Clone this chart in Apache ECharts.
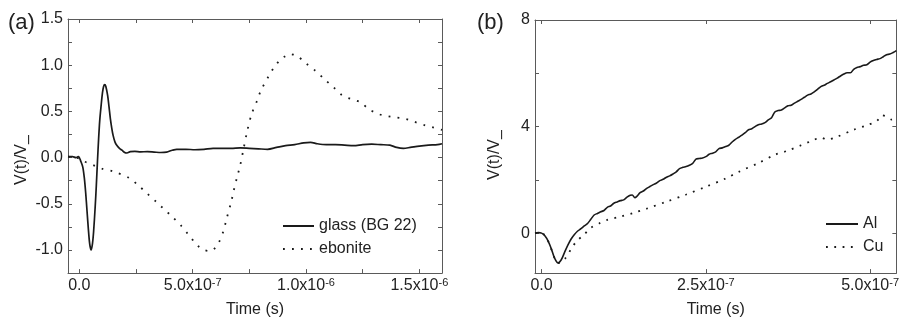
<!DOCTYPE html>
<html>
<head>
<meta charset="utf-8">
<script src="https://cdn.jsdelivr.net/npm/echarts@6/dist/echarts.min.js"></script>
<style>
html,body{margin:0;padding:0;background:#fff;}
#c{width:902px;height:323px;}
</style>
</head>
<body>
<div id="c"></div>
<script>
// ---- Panel (a) data ----
const glassT = [-5e-8,-3e-8,-1.5e-8,-5e-9,0,5e-9,1.5e-8,2.2e-8,2.8e-8,3.4e-8,4e-8,4.6e-8,5.2e-8,5.8e-8,6.3e-8,7e-8,7.5e-8,8e-8,8.5e-8,9e-8,9.6e-8,1.02e-7,1.07e-7,1.12e-7,1.17e-7,1.25e-7,1.31e-7,1.37e-7,1.43e-7,1.49e-7,1.57e-7,1.66e-7,1.77e-7,1.88e-7,2.0e-7,2.1e-7,2.25e-7,2.45e-7,2.7e-7,3.0e-7,3.3e-7,3.6e-7,3.85e-7,4.1e-7,4.3e-7,4.7e-7,5.1e-7,5.5e-7,5.9e-7,6.3e-7,6.7e-7,7.1e-7,7.5e-7,7.9e-7,8.3e-7,8.7e-7,9.1e-7,9.5e-7,9.9e-7,1.02e-6,1.05e-6,1.09e-6,1.13e-6,1.17e-6,1.21e-6,1.25e-6,1.29e-6,1.33e-6,1.37e-6,1.4e-6,1.43e-6,1.46e-6,1.5e-6,1.54e-6,1.58e-6,1.6e-6];
const glassV = [0.01,0.01,0.0,0.01,0.0,-0.03,-0.1,-0.22,-0.38,-0.58,-0.78,-0.94,-1.0,-0.93,-0.8,-0.53,-0.3,-0.04,0.2,0.4,0.56,0.7,0.77,0.79,0.77,0.67,0.55,0.42,0.32,0.24,0.17,0.13,0.1,0.08,0.055,0.05,0.065,0.068,0.062,0.065,0.06,0.055,0.06,0.08,0.09,0.09,0.085,0.09,0.1,0.1,0.1,0.105,0.1,0.095,0.09,0.11,0.13,0.14,0.16,0.165,0.15,0.14,0.14,0.135,0.13,0.14,0.145,0.14,0.135,0.11,0.1,0.11,0.125,0.135,0.14,0.15];
const eboniteT = [-5e-8,-2e-8,0,2e-8,6e-8,1e-7,1.5e-7,2.2e-7,2.6e-7,3e-7,3.4e-7,3.7e-7,4.1e-7,4.5e-7,4.8e-7,5.1e-7,5.3e-7,5.5e-7,5.7e-7,5.9e-7,6.15e-7,6.35e-7,6.5e-7,6.7e-7,6.8e-7,6.95e-7,7.1e-7,7.25e-7,7.4e-7,7.6e-7,7.85e-7,8.0e-7,8.35e-7,8.6e-7,8.87e-7,9.1e-7,9.3e-7,9.6e-7,1.0e-6,1.041e-6,1.081e-6,1.122e-6,1.159e-6,1.203e-6,1.24e-6,1.277e-6,1.321e-6,1.358e-6,1.394e-6,1.439e-6,1.475e-6,1.519e-6,1.556e-6,1.6e-6];
const eboniteV = [0.01,0.0,-0.01,-0.04,-0.08,-0.12,-0.15,-0.22,-0.3,-0.39,-0.48,-0.55,-0.64,-0.74,-0.83,-0.92,-0.97,-1.0,-1.01,-1.0,-0.92,-0.8,-0.66,-0.48,-0.37,-0.22,-0.08,0.1,0.28,0.47,0.62,0.72,0.88,0.98,1.06,1.1,1.12,1.1,1.02,0.94,0.85,0.76,0.675,0.63,0.6,0.525,0.47,0.45,0.436,0.42,0.39,0.354,0.33,0.3];
// ---- Panel (b) data ----
const alT = [-1e-8,-5e-9,0,5e-9,1e-8,1.5e-8,2e-8,2.5e-8,3e-8,3.5e-8,4e-8,4.5e-8,5e-8,5.5e-8,6e-8,6.5e-8,7e-8,7.5e-8,8e-8,8.5e-8,9e-8,9.5e-8,1e-7,1.05e-7,1.1e-7,1.15e-7,1.2e-7,1.25e-7,1.3e-7,1.35e-7,1.38e-7,1.42e-7,1.45e-7,1.5e-7,1.55e-7,1.6e-7,1.65e-7,1.7e-7,1.75e-7,1.8e-7,1.85e-7,1.9e-7,1.95e-7,2e-7,2.05e-7,2.1e-7,2.15e-7,2.2e-7,2.25e-7,2.3e-7,2.35e-7,2.4e-7,2.45e-7,2.5e-7,2.55e-7,2.6e-7,2.65e-7,2.7e-7,2.75e-7,2.8e-7,2.85e-7,2.9e-7,2.95e-7,3e-7,3.05e-7,3.1e-7,3.15e-7,3.2e-7,3.25e-7,3.3e-7,3.35e-7,3.4e-7,3.45e-7,3.5e-7,3.55e-7,3.6e-7,3.65e-7,3.7e-7,3.75e-7,3.8e-7,3.85e-7,3.9e-7,3.95e-7,4e-7,4.05e-7,4.1e-7,4.15e-7,4.2e-7,4.25e-7,4.3e-7,4.35e-7,4.4e-7,4.45e-7,4.5e-7,4.55e-7,4.6e-7,4.65e-7,4.7e-7,4.75e-7,4.8e-7,4.85e-7,4.9e-7,4.95e-7,5e-7,5.05e-7,5.1e-7,5.15e-7,5.2e-7,5.25e-7,5.3e-7,5.35e-7,5.4e-7];
const alV = [0.0,0.02,0.0,-0.1,-0.3,-0.6,-0.95,-1.12,-1.0,-0.72,-0.45,-0.22,-0.05,0.08,0.17,0.27,0.36,0.52,0.68,0.74,0.8,0.85,0.97,1.02,1.12,1.17,1.22,1.25,1.35,1.42,1.43,1.33,1.38,1.52,1.58,1.68,1.75,1.82,1.88,1.97,2.02,2.1,2.15,2.22,2.3,2.42,2.47,2.5,2.55,2.62,2.78,2.8,2.82,2.87,2.96,3.0,3.05,3.17,3.2,3.25,3.3,3.42,3.52,3.6,3.68,3.77,3.88,3.92,4.0,4.07,4.1,4.15,4.25,4.33,4.55,4.6,4.62,4.7,4.78,4.8,4.88,4.95,5.02,5.1,5.18,5.22,5.3,5.4,5.5,5.55,5.62,5.68,5.75,5.82,5.9,5.97,6.02,6.02,6.15,6.22,6.25,6.3,6.32,6.42,6.48,6.52,6.55,6.62,6.7,6.72,6.78,6.85];
const cuT = [-1e-8,0,1e-8,2e-8,2.5e-8,3e-8,3.6e-8,4.5e-8,5.3e-8,6.5e-8,7.5e-8,8.8e-8,1e-7,1.2e-7,1.4e-7,1.6e-7,1.9e-7,2.2e-7,2.5e-7,2.8e-7,3e-7,3.3e-7,3.55e-7,3.75e-7,3.95e-7,4.1e-7,4.25e-7,4.35e-7,4.5e-7,4.75e-7,4.95e-7,5.1e-7,5.18e-7,5.25e-7,5.33e-7,5.4e-7];
const cuV = [0.0,0.0,-0.3,-0.95,-1.12,-1.1,-0.95,-0.6,-0.31,-0.05,0.2,0.37,0.5,0.62,0.76,0.92,1.18,1.45,1.74,2.05,2.3,2.63,2.94,3.1,3.3,3.45,3.58,3.52,3.62,3.88,4.05,4.2,4.42,4.38,4.26,4.3];
// ---- Axis ticks ----
const xTicksA = [0,2.5e-7,5e-7,7.5e-7,1e-6,1.25e-6,1.5e-6];
const xLabelsA = [0,5e-7,1e-6,1.5e-6];
const yTicksA = [-1,-0.75,-0.5,-0.25,0,0.25,0.5,0.75,1,1.25,1.5];
const yLabelsA = [-1,-0.5,0,0.5,1,1.5];
const xTicksB = [0,2.5e-7,5e-7];
const xLabelsB = [0,2.5e-7,5e-7];
const yTicksB = [0,2,4,6,8];
const yLabelsB = [0,4,8];

const zip = (t, v) => t.map((x, i) => [x, v[i]]);
const FONT = 'Liberation Sans';
const TXT = '#222';
const FRAME = '#5a5a5a';
const LINE = '#1a1a1a';

function sci(v) {
  if (Math.abs(v) < 1e-20) return '0.0';
  const e = Math.floor(Math.log10(Math.abs(v)) + 1e-9);
  const m = v / Math.pow(10, e);
  return '{b|' + m.toFixed(1) + 'x10}{s|' + e + '}';
}

function xAx(grid, pos, min, max, ticks, labels, withName) {
  return {
    type: 'value', gridIndex: grid, position: pos, min: min, max: max,
    axisLine: { show: true, onZero: false, lineStyle: { color: FRAME, width: 1 } },
    axisTick: { show: true, inside: true, length: 4, customValues: ticks, lineStyle: { color: FRAME } },
    splitLine: { show: false },
    axisLabel: labels ? {
      show: true, customValues: labels, margin: 4, color: TXT, fontFamily: FONT, fontSize: 16, lineHeight: 16,
      formatter: sci,
      rich: {
        b: { fontFamily: FONT, fontSize: 16, lineHeight: 16, color: TXT, verticalAlign: 'bottom' },
        s: { fontFamily: FONT, fontSize: 11, lineHeight: 11, color: TXT, verticalAlign: 'top', padding: [0, 0, 9, 0] }
      }
    } : { show: false },
    name: withName ? 'Time (s)' : '',
    nameLocation: 'middle', nameGap: 26,
    nameTextStyle: { fontFamily: FONT, fontSize: 16, color: TXT }
  };
}
function yAx(grid, pos, min, max, ticks, labels, dec) {
  return {
    type: 'value', gridIndex: grid, position: pos, min: min, max: max,
    axisLine: { show: true, onZero: false, lineStyle: { color: FRAME, width: 1 } },
    axisTick: { show: true, inside: true, length: 4, customValues: ticks, lineStyle: { color: FRAME } },
    splitLine: { show: false },
    axisLabel: labels ? {
      show: true, customValues: labels, margin: 5, color: TXT, fontFamily: FONT, fontSize: 16,
      formatter: v => v.toFixed(dec)
    } : { show: false }
  };
}

const chart = echarts.init(document.getElementById('c'), null, { renderer: 'canvas' });
chart.setOption({
  animation: false,
  backgroundColor: '#fff',
  textStyle: { fontFamily: FONT },
  grid: [
    { left: 68, top: 19, width: 374, height: 257 },
    { left: 535, top: 20, width: 366, height: 256 }
  ],
  xAxis: [
    xAx(0, 'bottom', -5e-8, 1.6e-6, xTicksA, xLabelsA, true),
    xAx(0, 'top', -5e-8, 1.6e-6, xTicksA, null, false),
    xAx(1, 'bottom', -1e-8, 5.4e-7, xTicksB, xLabelsB, true),
    xAx(1, 'top', -1e-8, 5.4e-7, xTicksB, null, false)
  ],
  yAxis: [
    yAx(0, 'left', -1.25, 1.5, yTicksA, yLabelsA, 1),
    yAx(0, 'right', -1.25, 1.5, yTicksA, null, 1),
    yAx(1, 'left', -1.5, 8, yTicksB, yLabelsB, 0),
    yAx(1, 'right', -1.5, 8, yTicksB, null, 0)
  ],
  legend: [
    {
      data: ['glass (BG 22)', 'ebonite'], orient: 'vertical', left: 282, top: 218,
      itemWidth: 31, itemHeight: 14, itemGap: 7, padding: 0,
      itemStyle: { opacity: 0 },
      textStyle: { fontFamily: FONT, fontSize: 16, color: TXT, lineHeight: 16 }
    },
    {
      data: ['Al', 'Cu'], orient: 'vertical', left: 825, top: 216,
      itemWidth: 32, itemHeight: 14, itemGap: 7, padding: 0,
      itemStyle: { opacity: 0 },
      textStyle: { fontFamily: FONT, fontSize: 16, color: TXT, lineHeight: 16 }
    }
  ],
  graphic: [
    { type: 'text', x: 8, y: 23, style: { text: '(a)', font: '22px "Liberation Sans"', fill: TXT, verticalAlign: 'middle' } },
    { type: 'text', x: 477, y: 23, style: { text: '(b)', font: '22px "Liberation Sans"', fill: TXT, verticalAlign: 'middle' } },
    { type: 'text', x: 22, y: 160, rotation: Math.PI / 2, style: { text: 'V(t)/V_', font: '16px "Liberation Sans"', fill: TXT, align: 'center', verticalAlign: 'middle' } },
    { type: 'text', x: 495, y: 155, rotation: Math.PI / 2, style: { text: 'V(t)/V_', font: '16px "Liberation Sans"', fill: TXT, align: 'center', verticalAlign: 'middle' } }
  ],
  series: [
    { name: 'glass (BG 22)', type: 'line', xAxisIndex: 0, yAxisIndex: 0, data: zip(glassT, glassV), showSymbol: false, symbol: 'none', smooth: 0.3, lineStyle: { color: LINE, width: 1.7 }, itemStyle: { color: LINE } },
    { name: 'ebonite', type: 'line', xAxisIndex: 0, yAxisIndex: 0, data: zip(eboniteT, eboniteV), showSymbol: false, symbol: 'none', smooth: 0.3, lineStyle: { color: LINE, width: 1.8, type: [1.8, 7.2] }, itemStyle: { color: LINE } },
    { name: 'Al', type: 'line', xAxisIndex: 2, yAxisIndex: 2, data: zip(alT, alV), showSymbol: false, symbol: 'none', smooth: 0.3, lineStyle: { color: LINE, width: 1.6 }, itemStyle: { color: LINE } },
    { name: 'Cu', type: 'line', xAxisIndex: 2, yAxisIndex: 2, data: zip(cuT, cuV), showSymbol: false, symbol: 'none', smooth: 0.3, lineStyle: { color: LINE, width: 1.8, type: [1.8, 6.5] }, itemStyle: { color: LINE } }
  ]
});
</script>
</body>
</html>
